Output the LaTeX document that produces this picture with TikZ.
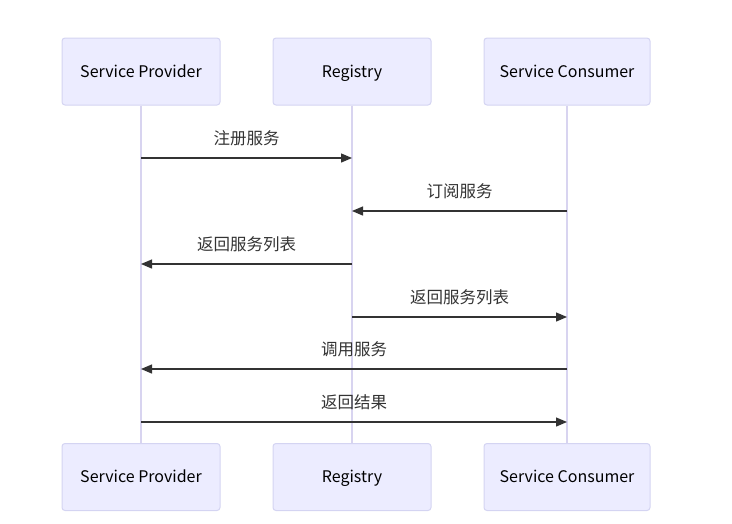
\documentclass[tikz,border=0pt]{standalone}
\usepackage{fontspec}
\setmainfont{Noto Sans CJK SC}
\usetikzlibrary{arrows.meta,calc}
\definecolor{actorfill}{HTML}{ECECFF}
\definecolor{actorline}{HTML}{D4D4F2}
\definecolor{lifeline}{HTML}{D8D4F0}
\definecolor{msgline}{HTML}{333333}
\tikzset{
  actor/.style    = { draw=actorline, fill=actorfill, rounded corners=3pt, line width=1pt,
                      minimum height=67pt, text=black, text height=14pt, text depth=3pt,
                      font=\fontsize{16}{19}\selectfont },
  life/.style     = { draw=lifeline, line width=1.2pt },
  msg/.style      = { draw=msgline, line width=1.3pt, -{Triangle[length=11pt,width=9pt]} },
  msglabel/.style = { font=\fontsize{16.5}{19}\selectfont, text=msgline },
}

\begin{document}
\begin{tikzpicture}[x=1pt,y=-1pt]
    \useasboundingbox (0,0) rectangle (732,523);

    % Actors (top)
    \node[actor, minimum width=158pt] (sp)  at (141,71.5) {Service Provider};
    \node[actor, minimum width=158pt] (reg) at (352,71.5) {Registry};
    \node[actor, minimum width=166pt] (sc)  at (567,71.5) {Service Consumer};

    % Actors (bottom)
    \node[actor, minimum width=158pt] (spb)  at (141,477) {Service Provider};
    \node[actor, minimum width=158pt] (regb) at (352,477) {Registry};
    \node[actor, minimum width=166pt] (scb)  at (567,477) {Service Consumer};

    % lifelines
    \draw[life] (sp)  -- (spb);
    \draw[life] (reg) -- (regb);
    \draw[life] (sc)  -- (scb);

    % messages
    \draw[msg] (sp |- 0,158) -- node[msglabel, above=8pt] {注册服务} (reg |- 0,158);
    \draw[msg] (sc |- 0,211) -- node[msglabel, above=8pt] {订阅服务} (reg |- 0,211);
    \draw[msg] (reg |- 0,264) -- node[msglabel, above=8pt] {返回服务列表} (sp |- 0,264);
    \draw[msg] (reg |- 0,317) -- node[msglabel, above=8pt] {返回服务列表} (sc |- 0,317);
    \draw[msg] (sc |- 0,369) -- node[msglabel, above=8pt] {调用服务} (sp |- 0,369);
    \draw[msg] (sp |- 0,422) -- node[msglabel, above=8pt] {返回结果} (sc |- 0,422);

\end{tikzpicture}
\end{document}
